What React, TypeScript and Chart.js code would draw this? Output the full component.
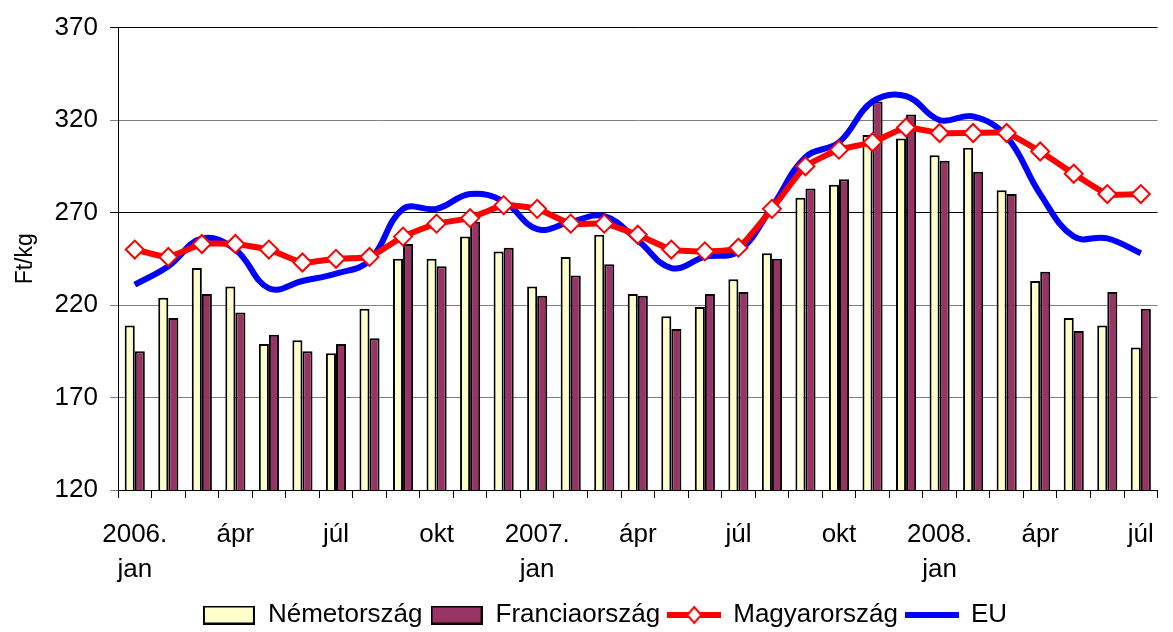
import React, { useEffect, useRef } from 'react';
import { Chart, registerables } from 'chart.js';

Chart.register(...registerables);

const FONT = '"Liberation Sans", Arial, sans-serif';

// 31 months: 2006 jan .. 2008 júl (labels shown every third month)
const tickLabels: (string | string[])[] = [
  ['2006.', 'jan'], '', '', 'ápr', '', '', 'júl', '', '', 'okt', '', '',
  ['2007.', 'jan'], '', '', 'ápr', '', '', 'júl', '', '', 'okt', '', '',
  ['2008.', 'jan'], '', '', 'ápr', '', '', 'júl',
];

const nemetorszag = [209, 224, 240, 230, 199, 201, 194, 218, 245, 245, 257, 249, 230, 246, 258, 226, 214, 219, 234, 248, 278, 285, 312, 310, 301, 305, 282, 233, 213, 209, 197];
const franciaorszag = [195, 213, 226, 216, 204, 195, 199, 202, 253, 241, 265, 251, 225, 236, 242, 225, 207, 226, 227, 245, 283, 288, 330, 323, 298, 292, 280, 238, 206, 227, 218];
const magyarorszag = [250, 246, 253, 253, 250, 243, 245, 246, 257, 264, 267, 274, 272, 264, 264, 258, 250, 249, 251, 272, 295, 304, 308, 316, 313, 313, 313, 303, 291, 280, 280];
const eu = [231, 241, 256, 250, 229, 233, 237, 244, 272, 272, 280, 276, 261, 265, 268, 255, 240, 246, 249, 273, 300, 308, 330, 333, 320, 322, 311, 280, 257, 256, 248];

const yTicks = [120, 170, 220, 270, 320, 370];

const seriesNames = ['Németország', 'Franciaország', 'Magyarország', 'EU'];

function boxIcon(fill: string) {
  const c = document.createElement('canvas');
  c.width = 52; c.height = 19;
  const x = c.getContext('2d')!;
  x.fillStyle = fill;
  x.fillRect(1, 1, 50, 17);
  x.strokeStyle = '#000';
  x.lineWidth = 2;
  x.strokeRect(1, 1, 50, 17);
  return c;
}

function lineIcon(color: string, diamond: boolean) {
  const c = document.createElement('canvas');
  c.width = 54; c.height = 20;
  const x = c.getContext('2d')!;
  x.fillStyle = color;
  x.fillRect(0, 7, 54, 6);
  if (diamond) {
    x.beginPath();
    x.moveTo(27, 2); x.lineTo(34, 10); x.lineTo(27, 18); x.lineTo(20, 10); x.closePath();
    x.fillStyle = '#fff'; x.fill();
    x.strokeStyle = color; x.lineWidth = 2; x.stroke();
  }
  return c;
}

export default function App() {
  const ref = useRef<HTMLCanvasElement>(null);
  useEffect(() => {
    document.body.style.margin = '0';
    Chart.defaults.font.family = FONT;
    const icons = [boxIcon('#FFFFCC'), boxIcon('#993366'), lineIcon('#FF0000', true), lineIcon('#0000FF', false)];
    const chart = new Chart(ref.current!, {
      type: 'bar',
      data: {
        labels: tickLabels,
        datasets: [
          { type: 'bar', label: seriesNames[0], data: nemetorszag, backgroundColor: '#FFFFCC', borderColor: '#000', borderWidth: 2, order: 3, categoryPercentage: 0.6, barPercentage: 1.0 },
          { type: 'bar', label: seriesNames[1], data: franciaorszag, backgroundColor: '#993366', borderColor: '#000', borderWidth: 2, order: 3, categoryPercentage: 0.6, barPercentage: 1.0 },
          { type: 'line', label: seriesNames[2], data: magyarorszag, borderColor: '#FF0000', borderWidth: 6, tension: 0.15, pointStyle: 'rectRot', pointRadius: 9, pointBackgroundColor: '#FFFFFF', pointBorderColor: '#FF0000', pointBorderWidth: 2, order: 1 },
          { type: 'line', label: seriesNames[3], data: eu, borderColor: '#0000FF', borderWidth: 6, tension: 0.4, pointRadius: 0, order: 2 },
        ] as any,
      },
      options: {
        animation: false,
        responsive: true,
        maintainAspectRatio: false,
        layout: { padding: { left: 42, right: 5, top: 25, bottom: -6 } },
        plugins: {
          tooltip: { enabled: false },
          legend: {
            position: 'bottom',
            labels: {
              usePointStyle: true,
              pointStyleWidth: 52,
              padding: 8,
              color: '#000',
              font: { family: FONT, size: 26 },
              generateLabels: () => seriesNames.map((name, i) => ({
                text: name,
                pointStyle: icons[i] as any,
                fillStyle: 'transparent',
                strokeStyle: 'transparent',
                lineWidth: 0,
                hidden: false,
                datasetIndex: i,
                fontColor: '#000',
              })),
            },
          },
        },
        scales: {
          x: {
            offset: true,
            grid: { offset: true, drawOnChartArea: false, drawTicks: true, tickLength: 8, color: '#000', lineWidth: 1 },
            border: { color: '#000', width: 1 },
            ticks: { autoSkip: false, maxRotation: 0, minRotation: 0, padding: 19, color: '#000', font: { family: FONT, size: 26, lineHeight: 1.35 } },
            afterFit: (s: any) => { s.height = 104; },
          },
          y: {
            min: yTicks[0],
            max: yTicks[yTicks.length - 1],
            afterBuildTicks: (s: any) => { s.ticks = yTicks.map((v) => ({ value: v })); },
            ticks: { padding: 12, color: '#000', font: { family: FONT, size: 26 } },
            grid: {
              color: (ctx: any) => (ctx.tick && (ctx.tick.value === 370 || ctx.tick.value === 270) ? '#000' : '#808080'),
              lineWidth: 1,
              tickLength: 8,
            },
            border: { color: '#000', width: 1 },
            title: { display: true, text: 'Ft/kg', color: '#000', font: { family: FONT, size: 23 }, padding: { top: -30, bottom: 0 } },
            afterFit: (s: any) => { s.width = 76; },
          },
        },
      },
    });
    return () => chart.destroy();
  }, []);
  return (
    <div style={{ position: 'relative', width: 1173, height: 632 }}>
      <canvas ref={ref} />
    </div>
  );
}
